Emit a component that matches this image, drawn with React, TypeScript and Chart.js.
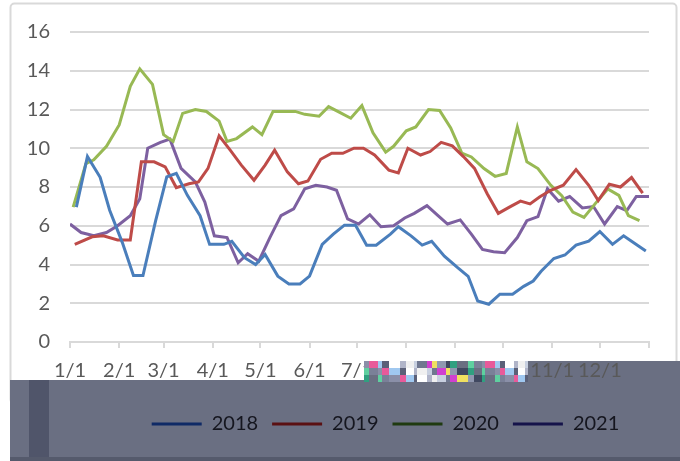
import React, { useEffect, useRef } from "react";
import { Chart, registerables } from "chart.js";

Chart.register(...registerables);

// ---- data ----
const monthStarts = [0, 31, 59, 90, 120, 151, 181, 212, 243, 273, 304, 334, 365];
const monthLabels = ["1/1", "2/1", "3/1", "4/1", "5/1", "6/1", "7/1", "8/1", "9/1", "10/1", "11/1", "12/1", ""];
const yTickValues = [0, 2, 4, 6, 8, 10, 12, 14, 16];

const seriesNames = ["2018", "2019", "2020", "2021"];

const days2018 = [4, 11, 19, 25, 33, 40, 46, 54, 61, 67, 74, 82, 88, 97, 102, 110, 117, 123, 131, 138, 145, 151, 159, 166, 173, 180, 187, 193, 202, 207, 215, 222, 228, 236, 244, 251, 257, 264, 271, 279, 286, 292, 297, 305, 312, 319, 327, 334, 342, 349, 354, 363];
const vals2018 = [6.96, 9.57, 8.5, 6.8, 5.13, 3.43, 3.43, 6.26, 8.52, 8.7, 7.57, 6.52, 5.04, 5.04, 5.2, 4.35, 4.0, 4.52, 3.4, 3.0, 3.0, 3.4, 5.04, 5.57, 6.03, 6.03, 5.0, 5.0, 5.57, 5.95, 5.48, 5.0, 5.2, 4.43, 3.86, 3.39, 2.12, 1.95, 2.47, 2.47, 2.87, 3.15, 3.65, 4.31, 4.49, 5.0, 5.2, 5.7, 5.04, 5.48, 5.2, 4.7];

const days2019 = [3, 14, 21, 30, 38, 45, 53, 60, 67, 75, 81, 87, 94, 101, 108, 116, 123, 129, 137, 144, 150, 158, 165, 172, 179, 185, 192, 201, 207, 213, 221, 227, 234, 241, 248, 255, 263, 270, 277, 284, 290, 296, 303, 311, 319, 327, 333, 340, 347, 354, 361];
const vals2019 = [5.04, 5.43, 5.48, 5.27, 5.27, 9.3, 9.3, 9.04, 7.97, 8.17, 8.26, 8.96, 10.64, 9.9, 9.13, 8.35, 9.13, 9.9, 8.78, 8.17, 8.31, 9.43, 9.74, 9.74, 10.0, 10.0, 9.65, 8.87, 8.73, 10.0, 9.65, 9.83, 10.3, 10.12, 9.57, 8.96, 7.65, 6.64, 6.96, 7.27, 7.13, 7.48, 7.83, 8.09, 8.9, 8.09, 7.3, 8.14, 8.0, 8.49, 7.69];

const days2020 = [2, 10, 15, 23, 31, 38, 44, 52, 59, 65, 71, 79, 86, 94, 99, 105, 115, 121, 128, 135, 142, 148, 157, 163, 170, 177, 184, 191, 199, 204, 212, 218, 226, 233, 240, 247, 253, 261, 268, 275, 282, 288, 295, 303, 310, 317, 324, 331, 339, 346, 352, 359];
const vals2020 = [6.96, 9.2, 9.4, 10.1, 11.2, 13.2, 14.1, 13.3, 10.7, 10.35, 11.8, 12.0, 11.9, 11.4, 10.35, 10.5, 11.1, 10.7, 11.9, 11.9, 11.9, 11.75, 11.65, 12.15, 11.85, 11.55, 12.2, 10.8, 9.8, 10.1, 10.9, 11.1, 12.0, 11.95, 11.05, 9.75, 9.55, 8.95, 8.55, 8.7, 11.1, 9.3, 8.95, 8.1, 7.55, 6.7, 6.43, 7.13, 7.9, 7.57, 6.52, 6.26];

const days2021 = [0, 7, 15, 23, 30, 38, 44, 49, 57, 63, 70, 79, 85, 91, 99, 106, 112, 119, 126, 133, 141, 148, 155, 162, 168, 175, 182, 189, 196, 204, 211, 217, 225, 232, 238, 246, 253, 260, 267, 274, 282, 288, 295, 301, 308, 315, 323, 330, 337, 345, 351, 357, 365];
const vals2021 = [6.09, 5.65, 5.48, 5.65, 6.0, 6.52, 7.39, 10.0, 10.3, 10.47, 8.96, 8.26, 7.22, 5.48, 5.39, 4.09, 4.56, 4.17, 5.39, 6.52, 6.87, 7.91, 8.09, 8.0, 7.83, 6.35, 6.09, 6.57, 5.95, 6.0, 6.4, 6.64, 7.04, 6.52, 6.09, 6.3, 5.57, 4.78, 4.66, 4.61, 5.39, 6.26, 6.47, 7.91, 7.27, 7.51, 6.92, 6.99, 6.09, 6.99, 6.78, 7.51, 7.51];

// ---- styles ----
const lineColors = ["#4a7ebb", "#be4b48", "#98b954", "#7d60a0"];
const legendColors = ["#0f2a66", "#5a1012", "#1f3a10", "#15134a"];
const FONT = "Lato, 'Open Sans', sans-serif";

const toPoints = (d: number[], v: number[]) => d.map((x, i) => ({ x, y: v[i] }));

const bgPlugin = {
  id: "bg",
  beforeDraw(chart: any) {
    const c = chart.ctx;
    c.save();
    c.fillStyle = "#ffffff";
    c.fillRect(0, 0, chart.width, chart.height);
    c.strokeStyle = "#d9d9d9";
    c.lineWidth = 2;
    c.beginPath();
    c.roundRect(10.5, 3.5, 666, 400, 4);
    c.stroke();
    c.fillStyle = "#6a6f82";
    c.fillRect(10, 380, 670, 81);
    c.fillRect(440, 361, 240, 20);
    c.fillStyle = "#50556a";
    c.fillRect(29, 380, 20, 81);
    c.fillStyle = "#555a6c";
    c.fillRect(10, 457, 670, 4);
    c.restore();
  },
};

const legendShift = {
  id: "legendShift",
  afterLayout(chart: any) {
    const lg = chart.legend;
    if (lg) {
      lg.left += 56;
      lg.right += 56;
      lg.top += 6;
      lg.bottom += 6;
    }
  },
};

const glitchColors = ["#8a8fa8", "#c8d0e0", "#6a6f82", "#ffffff", "#9098b0", "#e85a9a", "#707890", "#5fd0a0", "#b0b4c8", "#404860", "#a0c8f0", "#d040d0", "#7a8098", "#f0f0f0", "#30a080", "#5a6078", "#f0e060"];
const glitchWidths = [5, 9, 4, 7, 11, 6, 8, 3, 10, 5];

const glitchPlugin = {
  id: "glitch",
  afterDraw(chart: any) {
    const c = chart.ctx;
    c.save();
    let k = 0;
    let x = 364;
    while (x < 526) {
      const w = Math.min(glitchWidths[k % glitchWidths.length], 528 - x);
      for (let r = 0; r < 3; r++) {
        c.fillStyle = glitchColors[(k * 5 + r * 7) % glitchColors.length];
        c.fillRect(x, 361 + r * 7, w, 7);
      }
      x += w;
      k++;
    }
    c.restore();
  },
};

export default function App() {
  const ref = useRef<HTMLCanvasElement | null>(null);

  useEffect(() => {
    document.body.style.margin = "0";
    const canvas = ref.current;
    if (!canvas) return;
    const allDays = [days2018, days2019, days2020, days2021];
    const allVals = [vals2018, vals2019, vals2020, vals2021];
    const chart = new Chart(canvas, {
      type: "line",
      data: {
        datasets: seriesNames.map((name, i) => ({
          label: name,
          data: toPoints(allDays[i], allVals[i]),
          borderColor: lineColors[i],
          backgroundColor: lineColors[i],
          borderWidth: 3,
          pointRadius: 0,
          tension: 0,
          fill: false,
        })),
      },
      options: {
        animation: false,
        responsive: false,
        maintainAspectRatio: false,
        layout: { padding: { left: 10, right: 31, top: 22, bottom: 23 } },
        plugins: {
          tooltip: { enabled: false },
          legend: {
            position: "bottom",
            labels: {
              boxWidth: 50,
              boxHeight: 3,
              padding: 14,
              color: "#15161f",
              font: { family: FONT, size: 20 },
              generateLabels: () =>
                seriesNames.map((n, i) => ({
                  text: n,
                  fillStyle: legendColors[i],
                  strokeStyle: legendColors[i],
                  lineWidth: 0,
                  hidden: false,
                  datasetIndex: i,
                  fontColor: "#15161f",
                })),
            },
          },
        },
        scales: {
          x: {
            type: "linear",
            min: 0,
            max: 365,
            afterBuildTicks: (s: any) => {
              s.ticks = monthStarts.map((v) => ({ value: v }));
            },
            ticks: {
              autoSkip: false,
              maxRotation: 0,
              padding: 11,
              color: "#595959",
              font: { family: FONT, size: 20 },
              callback: (v: any) => {
                const idx = monthStarts.indexOf(Number(v));
                return idx >= 0 ? monthLabels[idx] : "";
              },
            },
            grid: { display: true, drawOnChartArea: false, drawTicks: true, tickLength: 6, color: "#d9d9d9", lineWidth: 2 },
            border: { display: true, color: "#d9d9d9", width: 2 },
          },
          y: {
            min: 0,
            max: 16,
            afterBuildTicks: (s: any) => {
              s.ticks = yTickValues.map((v) => ({ value: v }));
            },
            afterFit: (s: any) => {
              s.width = 60;
            },
            ticks: {
              padding: 20,
              color: "#595959",
              font: { family: FONT, size: 20 },
            },
            grid: { color: "#d9d9d9", lineWidth: 2, drawTicks: false },
            border: { display: false },
          },
        },
      },
      plugins: [bgPlugin, legendShift, glitchPlugin],
    });
    return () => chart.destroy();
  }, []);

  return <canvas ref={ref} width={680} height={461} style={{ display: "block", width: 680, height: 461 }} />;
}
